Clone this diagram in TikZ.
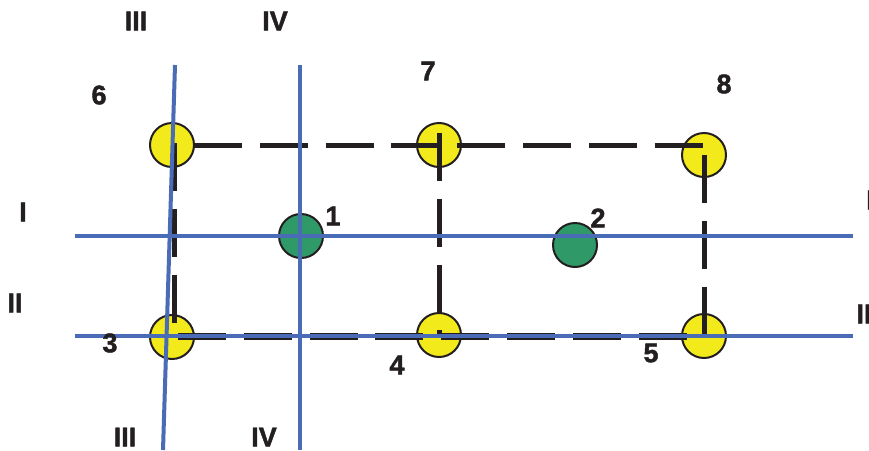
\documentclass[tikz,border=0pt]{standalone}
\usepackage{fontspec}
\setmainfont{Liberation Sans}
\newfontfamily\heavyfont{Liberation Sans Bold}[FakeBold=1.6]
\definecolor{lineblue}{HTML}{4A6BB5}
\definecolor{dotyellow}{HTML}{F2EA1A}
\definecolor{dotgreen}{HTML}{2F9A68}
\definecolor{ink}{HTML}{231F20}
\begin{document}
\begin{tikzpicture}[x=1pt,y=-1pt,
  yellowdot/.style={circle,draw=ink,line width=2pt,fill=dotyellow,minimum size=44pt,inner sep=0pt},
  greendot/.style={circle,draw=ink,line width=2pt,fill=dotgreen,minimum size=44pt,inner sep=0pt},
  lbl/.style={font=\fontsize{27}{27}\heavyfont,text=ink,inner sep=0pt},
  dashline/.style={draw=ink,line width=5pt,dash pattern=on 48pt off 17.8pt},
  blueline/.style={draw=lineblue,line width=4pt}]
\useasboundingbox (0,0) rectangle (869,450);
\fill[white] (0,0) rectangle (869,450);
\clip (0,0) rectangle (869,450);

% circles
\node[yellowdot] (c6) at (172,145) {};
\node[yellowdot] (c7) at (439,145) {};
\node[yellowdot] (c8) at (704,155) {};
\node[yellowdot] (c3) at (172,337) {};
\node[yellowdot] (c4) at (439,335) {};
\node[yellowdot] (c5) at (704,336) {};
\node[greendot] (c1) at (301,236) {};
\node[greendot] (c2) at (575,245) {};

% dashed frame
\coordinate (topw) at (194,145);
\coordinate (tope) at (703,145);
\coordinate (leftn) at (174,143);
\coordinate (lefts) at (174,323);
\coordinate (midn) at (439,133);
\coordinate (mids) at (439,336);
\coordinate (rightn) at (704,155);
\coordinate (rights) at (704,335);
\coordinate (botw) at (178,336);
\coordinate (bote) at (687,336);
\draw[dashline] (topw) -- (tope);
\draw[dashline] (leftn) -- (lefts);
\draw[dashline] (midn) -- (mids);
\draw[dashline] (rightn) -- (rights);
\draw[dashline,line width=7pt] (botw) -- (bote);

% blue axes
\coordinate (Iw) at (75,236);
\coordinate (Ie) at (853,236);
\coordinate (IIw) at (75,336);
\coordinate (IIe) at (853,336);
\coordinate (IIIn) at (175,65);
\coordinate (IIIs) at (163,450);
\coordinate (IVn) at (300,65);
\coordinate (IVs) at (300,450);
\draw[blueline] (Iw) -- (Ie);
\draw[blueline] (IIw) -- (IIe);
\draw[blueline] (IIIn) -- (IIIs);
\draw[blueline] (IVn) -- (IVs);

% labels
\node[lbl] (tIIIn) at (136,21) {III};
\node[lbl] (tIVn) at (275,21) {IV};
\node[lbl] (tIIIs) at (125,437) {III};
\node[lbl] (tIVs) at (264,437) {IV};
\node[lbl] (tIw) at (23,212) {I};
\node[lbl] (tIIw) at (15,303) {II};
\node[lbl] (tIe) at (870,200) {I};
\node[lbl] (tIIe) at (864,314) {II};
\node[lbl] (t1) at (333,216) {1};
\node[lbl] (t2) at (598,218) {2};
\node[lbl] (t3) at (110,343) {3};
\node[lbl] (t4) at (397,365) {4};
\node[lbl] (t5) at (651,353) {5};
\node[lbl] (t6) at (99,95) {6};
\node[lbl] (t7) at (428,71) {7};
\node[lbl] (t8) at (724,84) {8};
\end{tikzpicture}
\end{document}
